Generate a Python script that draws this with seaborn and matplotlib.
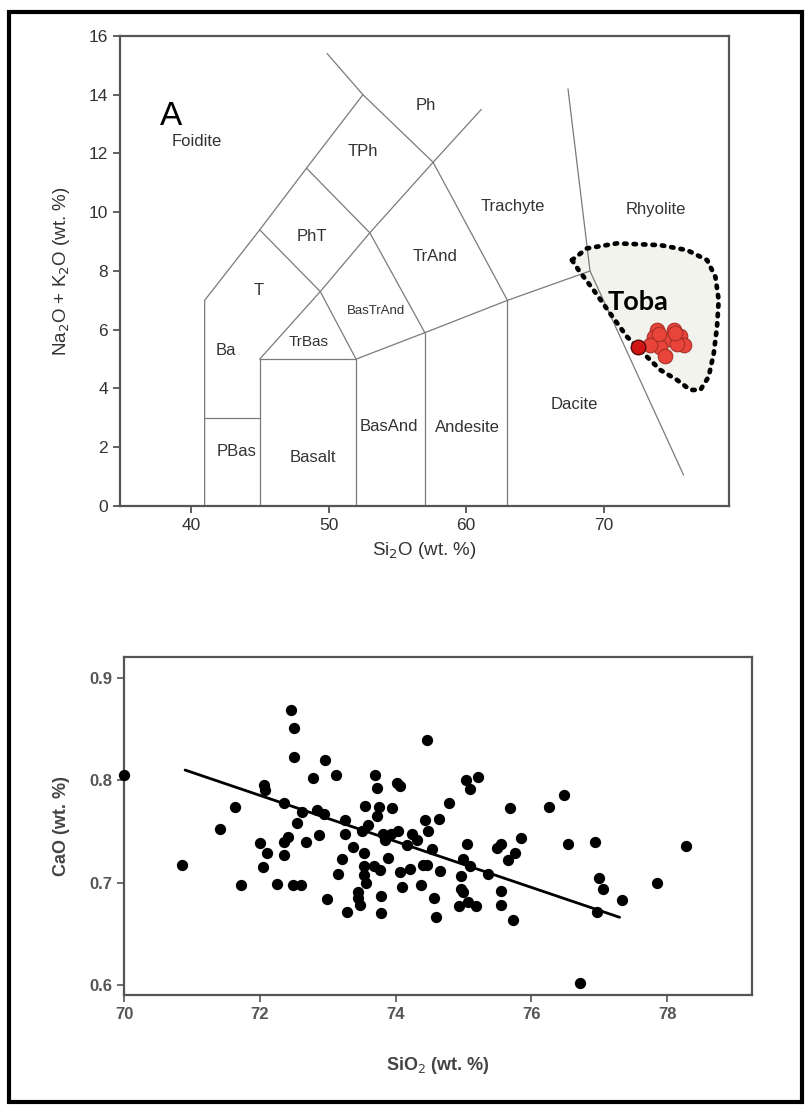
import matplotlib
matplotlib.use("Agg")
import matplotlib.pyplot as plt
import seaborn as sns
import pandas as pd
from matplotlib.patches import Rectangle, Polygon

# ---- TAS field boundaries (SiO2, Na2O+K2O) ----
bnd_foid_x = [41, 41, 45, 48.4, 52.5, 49.9]
bnd_foid_y = [0, 7, 9.4, 11.5, 14, 15.4]
bnd_pbas_x = [41, 45]
bnd_pbas_y = [3, 3]
bnd_bas_x = [45, 45, 52, 52]
bnd_bas_y = [0, 5, 5, 0]
bnd_mid_x = [45, 49.4, 53, 57.6, 61.1]
bnd_mid_y = [5, 7.3, 9.3, 11.7, 13.5]
bnd_low_x = [52, 57, 63, 69]
bnd_low_y = [5, 5.9, 7, 8]
bnd_and_x = [57, 57]
bnd_and_y = [0, 5.9]
bnd_dac_x = [63, 63]
bnd_dac_y = [0, 7]
bnd_c1_x = [45, 49.4, 52]
bnd_c1_y = [9.4, 7.3, 5]
bnd_c2_x = [48.4, 53, 57]
bnd_c2_y = [11.5, 9.3, 5.9]
bnd_c3_x = [52.5, 57.6, 63]
bnd_c3_y = [14, 11.7, 7]
bnd_rhy_x = [67.4, 69, 75.8]
bnd_rhy_y = [14.2, 8, 1.05]

field_names = ["Foidite", "Ph", "TPh", "Trachyte", "PhT", "TrAnd", "T", "BasTrAnd",
               "Ba", "TrBas", "PBas", "Basalt", "BasAnd", "Andesite", "Dacite", "Rhyolite"]
field_x = [40.4, 57.1, 52.5, 63.4, 48.8, 57.75, 44.95, 53.45,
           42.55, 48.56, 43.3, 48.85, 54.4, 60.1, 67.85, 73.8]
field_y = [12.4, 13.64, 12.08, 10.2, 9.16, 8.48, 7.35, 6.64,
           5.3, 5.59, 1.85, 1.64, 2.7, 2.66, 3.44, 10.1]

# Toba field outline
toba_x = [67.69, 68.78, 70.96, 74.11, 76.05, 77.51, 78.11, 78.35, 78.23, 77.99,
          77.62, 77.02, 76.29, 75.32, 74.11, 72.90, 71.69, 70.47, 69.26, 68.17]
toba_y = [8.37, 8.77, 8.94, 8.88, 8.71, 8.37, 7.80, 7.01, 6.10, 5.19,
          4.40, 3.95, 3.95, 4.29, 4.63, 5.19, 5.76, 6.55, 7.35, 8.03]

# Toba glass analyses
toba_sio2 = [73.87, 73.62, 74.71, 75.56, 75.85, 74.11, 74.47, 73.38, 75.08, 75.32, 74.0, 75.2]
toba_alk = [5.99, 5.74, 5.70, 5.78, 5.48, 5.40, 5.10, 5.48, 5.99, 5.53, 5.85, 5.9]
toba_hl_sio2 = [72.49]
toba_hl_alk = [5.40]

# ---- CaO vs SiO2 ----
sio2 = [70.00, 71.64, 72.06, 72.08, 72.46, 72.51, 72.51, 72.35, 72.62, 72.55,
        72.79, 72.85, 72.94, 72.96, 73.12, 73.26, 73.55, 73.60, 73.69, 73.72,
        73.72, 73.76, 73.95, 74.02, 74.06, 74.46, 74.44, 74.64, 74.78, 75.04,
        75.21, 75.10, 75.69, 76.26, 76.48,
        71.41, 70.85, 71.72, 72.01, 72.11, 72.05, 72.26, 72.35, 72.42, 72.36,
        72.49, 72.60, 72.68, 72.87, 72.99, 73.15, 73.21, 73.25, 73.28, 73.38,
        73.44, 73.44, 73.48, 73.53, 73.54, 73.54, 73.56, 73.51, 73.68, 73.77,
        73.79, 73.79, 73.82, 73.84, 73.89, 73.94, 74.04, 74.06, 74.09, 74.17,
        74.21, 74.24, 74.32, 74.37, 74.40, 74.47, 74.48, 74.53, 74.57, 74.60,
        74.66, 74.93, 74.97, 74.97, 74.99, 75.00, 75.05, 75.07, 75.10, 75.19,
        75.36, 75.50, 75.56, 75.56, 75.56, 75.65, 75.73, 75.76, 75.85, 76.54,
        76.71, 76.94, 76.97, 77.00, 77.05, 77.34, 77.85, 78.28]
cao = [0.805, 0.774, 0.795, 0.790, 0.869, 0.851, 0.823, 0.778, 0.769, 0.758,
       0.802, 0.771, 0.767, 0.820, 0.805, 0.761, 0.775, 0.756, 0.805, 0.792,
       0.765, 0.774, 0.773, 0.797, 0.794, 0.839, 0.761, 0.762, 0.778, 0.800,
       0.803, 0.791, 0.773, 0.774, 0.786,
       0.752, 0.717, 0.698, 0.739, 0.729, 0.715, 0.699, 0.740, 0.745, 0.727,
       0.698, 0.698, 0.740, 0.746, 0.684, 0.708, 0.723, 0.747, 0.671, 0.735,
       0.691, 0.685, 0.678, 0.729, 0.716, 0.707, 0.700, 0.750, 0.716, 0.712,
       0.687, 0.670, 0.747, 0.742, 0.724, 0.747, 0.750, 0.710, 0.696, 0.737,
       0.713, 0.747, 0.742, 0.698, 0.717, 0.717, 0.750, 0.733, 0.685, 0.666,
       0.711, 0.677, 0.706, 0.694, 0.691, 0.723, 0.738, 0.681, 0.716, 0.677,
       0.708, 0.734, 0.738, 0.692, 0.678, 0.722, 0.663, 0.729, 0.744, 0.738,
       0.602, 0.740, 0.671, 0.704, 0.694, 0.683, 0.700, 0.736]
fit_x = [70.9, 77.3]
fit_y = [0.810, 0.666]

sns.set_style("ticks")
plt.rcParams["font.family"] = ["Liberation Sans", "DejaVu Sans"]

fig = plt.figure(figsize=(8.12, 11.14), dpi=100)

# outer frame
fig.patches.append(Rectangle((0.011, 0.011), 0.977, 0.978, transform=fig.transFigure,
                             fill=False, edgecolor="black", linewidth=3))

# ---------------- top: TAS ----------------
ax1 = fig.add_axes([0.1478, 0.5458, 0.75, 0.4219])
line_kw = dict(color="#7a7a7a", linewidth=0.9)
for bx, by in [(bnd_foid_x, bnd_foid_y), (bnd_pbas_x, bnd_pbas_y), (bnd_bas_x, bnd_bas_y),
               (bnd_mid_x, bnd_mid_y), (bnd_low_x, bnd_low_y), (bnd_and_x, bnd_and_y),
               (bnd_dac_x, bnd_dac_y), (bnd_c1_x, bnd_c1_y), (bnd_c2_x, bnd_c2_y),
               (bnd_c3_x, bnd_c3_y)]:
    ax1.plot(bx, by, **line_kw)

ax1.add_patch(Polygon(list(zip(toba_x, toba_y)), closed=True, facecolor="#f2f3ec",
                      edgecolor="none", zorder=1))
ax1.plot(bnd_rhy_x, bnd_rhy_y, zorder=2, **line_kw)
ax1.plot(toba_x + toba_x[:1], toba_y + toba_y[:1], color="black", linewidth=3.4,
         linestyle=(0, (0.5, 1.5)), dash_capstyle="round", zorder=3)

sns.scatterplot(x=toba_sio2, y=toba_alk, ax=ax1, s=110, color="#e8443a",
                edgecolor="#a83028", linewidth=0.8, zorder=4)
sns.scatterplot(x=toba_hl_sio2, y=toba_hl_alk, ax=ax1, s=110, color="#d01515",
                edgecolor="#5a0a0a", linewidth=1.0, zorder=5)

for name, fx, fy in zip(field_names, field_x, field_y):
    fs = 12
    if name == "BasTrAnd":
        fs = 9.5
    elif name == "TrBas":
        fs = 11
    ax1.text(fx, fy, name, ha="center", va="center", fontsize=fs, color="#333333")

ax1.text(38.55, 13.25, "A", ha="center", va="center", fontsize=24, color="black")
ax1.text(72.5, 6.95, "Toba", ha="center", va="center", fontsize=19.5, fontweight="bold",
         family=["Lato", "DejaVu Sans"], color="black", zorder=6)

ax1.set_xlim(34.85, 79.1)
ax1.set_ylim(0, 16)
ax1.set_xticks([40, 50, 60, 70])
ax1.set_yticks(range(0, 17, 2))
ax1.tick_params(direction="out", length=5, width=1.2, colors="#444444",
                labelsize=12.5, labelcolor="#333333")
for sp in ax1.spines.values():
    sp.set_color("#555555")
    sp.set_linewidth(1.6)
ax1.set_xlabel("Si$_2$O (wt. %)", fontsize=13.5, color="#333333", labelpad=5)
ax1.set_ylabel("Na$_2$O + K$_2$O (wt. %)", fontsize=13.5, color="#333333", labelpad=12)

# ---------------- bottom: CaO vs SiO2 ----------------
ax2 = fig.add_axes([0.1527, 0.1068, 0.7734, 0.3034])
df = pd.DataFrame({"SiO2": sio2, "CaO": cao})
sns.scatterplot(data=df, x="SiO2", y="CaO", ax=ax2, s=66, color="black",
                edgecolor="black", linewidth=0, clip_on=False, zorder=3)
sns.lineplot(x=fit_x, y=fit_y, ax=ax2, color="black", linewidth=2)

ax2.set_xlim(70, 79.25)
ax2.set_ylim(0.59, 0.9205)
ax2.set_xticks([70, 72, 74, 76, 78])
ax2.set_yticks([0.6, 0.7, 0.8, 0.9])
ax2.tick_params(direction="out", length=5, width=1.2, colors="#555555",
                labelsize=12, labelcolor="#555555")
for lbl in ax2.get_xticklabels() + ax2.get_yticklabels():
    lbl.set_fontweight("bold")
for sp in ax2.spines.values():
    sp.set_color("#555555")
    sp.set_linewidth(1.6)
ax2.set_xlabel("SiO$_2$ (wt. %)", fontsize=13, fontweight="bold", color="#444444", labelpad=24)
ax2.set_ylabel("CaO (wt. %)", fontsize=13, fontweight="bold", color="#444444", labelpad=14)

fig.savefig("out.png", dpi=100)
